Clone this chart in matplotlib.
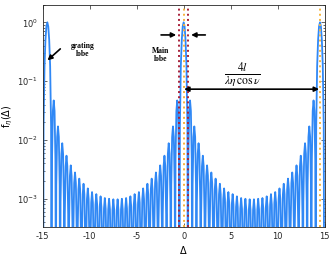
import matplotlib as mpl
mpl.use('Agg')
import matplotlib.pyplot as plt
import numpy as np

plt.rcParams['axes.unicode_minus'] = False

# positions of the main lobe and the two grating lobes
lobe_centers = [-14.5, 0.0, 14.5]

# main / grating lobe profile (offset from centre, value)
main_dx = [0.0, 0.1, 0.2, 0.3, 0.4, 0.453]
main_val = [1.0, 0.85, 0.5, 0.18, 0.017, 1e-6]

# side lobe peak heights, from next to the main lobe out to the middle
side_peaks = [0.047, 0.017, 0.0088, 0.0054, 0.0037, 0.0028, 0.0022, 0.0018,
              0.0015, 0.0013, 0.0012, 0.0011, 0.00103, 0.001, 0.00098]
side_first = 0.68     # first side lobe offset
side_step = 0.453     # side lobe spacing

# rough shape of one side lobe relative to its peak
lobe_dx = [-0.2265, -0.18, -0.09, 0.0, 0.09, 0.18]
lobe_rel = [1e-3, 0.1, 0.66, 1.0, 0.66, 0.1]

red_lines = [-0.453, 0.453]
orange_lines = [0.0, 14.5]

# build the curve
pts = []
for c in lobe_centers:
    for dx, v in zip(main_dx, main_val):
        pts.append((c - dx, v))
        pts.append((c + dx, v))
heights = side_peaks + side_peaks[::-1]
for c in lobe_centers[:-1]:
    for k, h in enumerate(heights):
        xc = c + side_first + side_step * k
        for dx, r in zip(lobe_dx, lobe_rel):
            pts.append((xc + dx, h * r))
pts = sorted(set(pts))
x = np.array([p[0] for p in pts])
y = np.array([p[1] for p in pts])

fig = plt.figure(figsize=(3.33, 2.56), dpi=100)
ax = fig.add_axes([0.128, 0.113, 0.847, 0.869])

ax.plot(x, y, color='#3088f5', lw=1.3)
for xv in red_lines:
    ax.axvline(xv, color='#a8203a', ls=':', lw=1.4)
for xv in orange_lines:
    ax.axvline(xv, color='#f5b43c', ls=':', lw=1.4)

ax.set_yscale('log')
ax.set_xlim(-15, 15)
ax.set_ylim(3.3e-4, 2.0)
ax.set_xticks([-15, -10, -5, 0, 5, 10, 15])
ax.tick_params(which='both', direction='in', top=True, right=True,
               labelsize=6, colors='#262626', width=0.5)
ax.tick_params(which='major', length=3)
ax.tick_params(which='minor', length=1.5)
for s in ax.spines.values():
    s.set_color('#262626')
    s.set_linewidth(0.6)

ax.set_xlabel(r'$\Delta$', fontsize=7, labelpad=2)
ax.set_ylabel(r'f$_\eta$($\Delta$)', fontsize=7, labelpad=1)

bold = dict(family='Liberation Serif', weight='bold', fontsize=5.5)
ax.text(-10.7, 0.34, 'grating\nlobe', ha='center', va='center', linespacing=1.1, **bold)
ax.annotate('', xy=(-14.7, 0.21), xytext=(-12.9, 0.38),
            arrowprops=dict(arrowstyle='-|>', color='k', lw=1.2, mutation_scale=7))

ax.text(-2.45, 0.28, 'Main\nlobe', ha='center', va='center', linespacing=1.1, **bold)
ax.annotate('', xy=(-0.5, 0.61), xytext=(-2.7, 0.61),
            arrowprops=dict(arrowstyle='-|>', color='k', lw=1.2, mutation_scale=7))
ax.annotate('', xy=(0.5, 0.61), xytext=(2.6, 0.61),
            arrowprops=dict(arrowstyle='-|>', color='k', lw=1.2, mutation_scale=7))

ax.annotate('', xy=(0.05, 0.073), xytext=(14.4, 0.073),
            arrowprops=dict(arrowstyle='<|-|>', color='k', lw=1.2, mutation_scale=7,
                            shrinkA=0, shrinkB=0))
ax.text(6.3, 0.13, r'$\frac{4l}{\lambda\eta\,\cos\nu}$', ha='center', va='center',
        fontsize=12, math_fontfamily='stix')

fig.savefig('out.png', dpi=100)
